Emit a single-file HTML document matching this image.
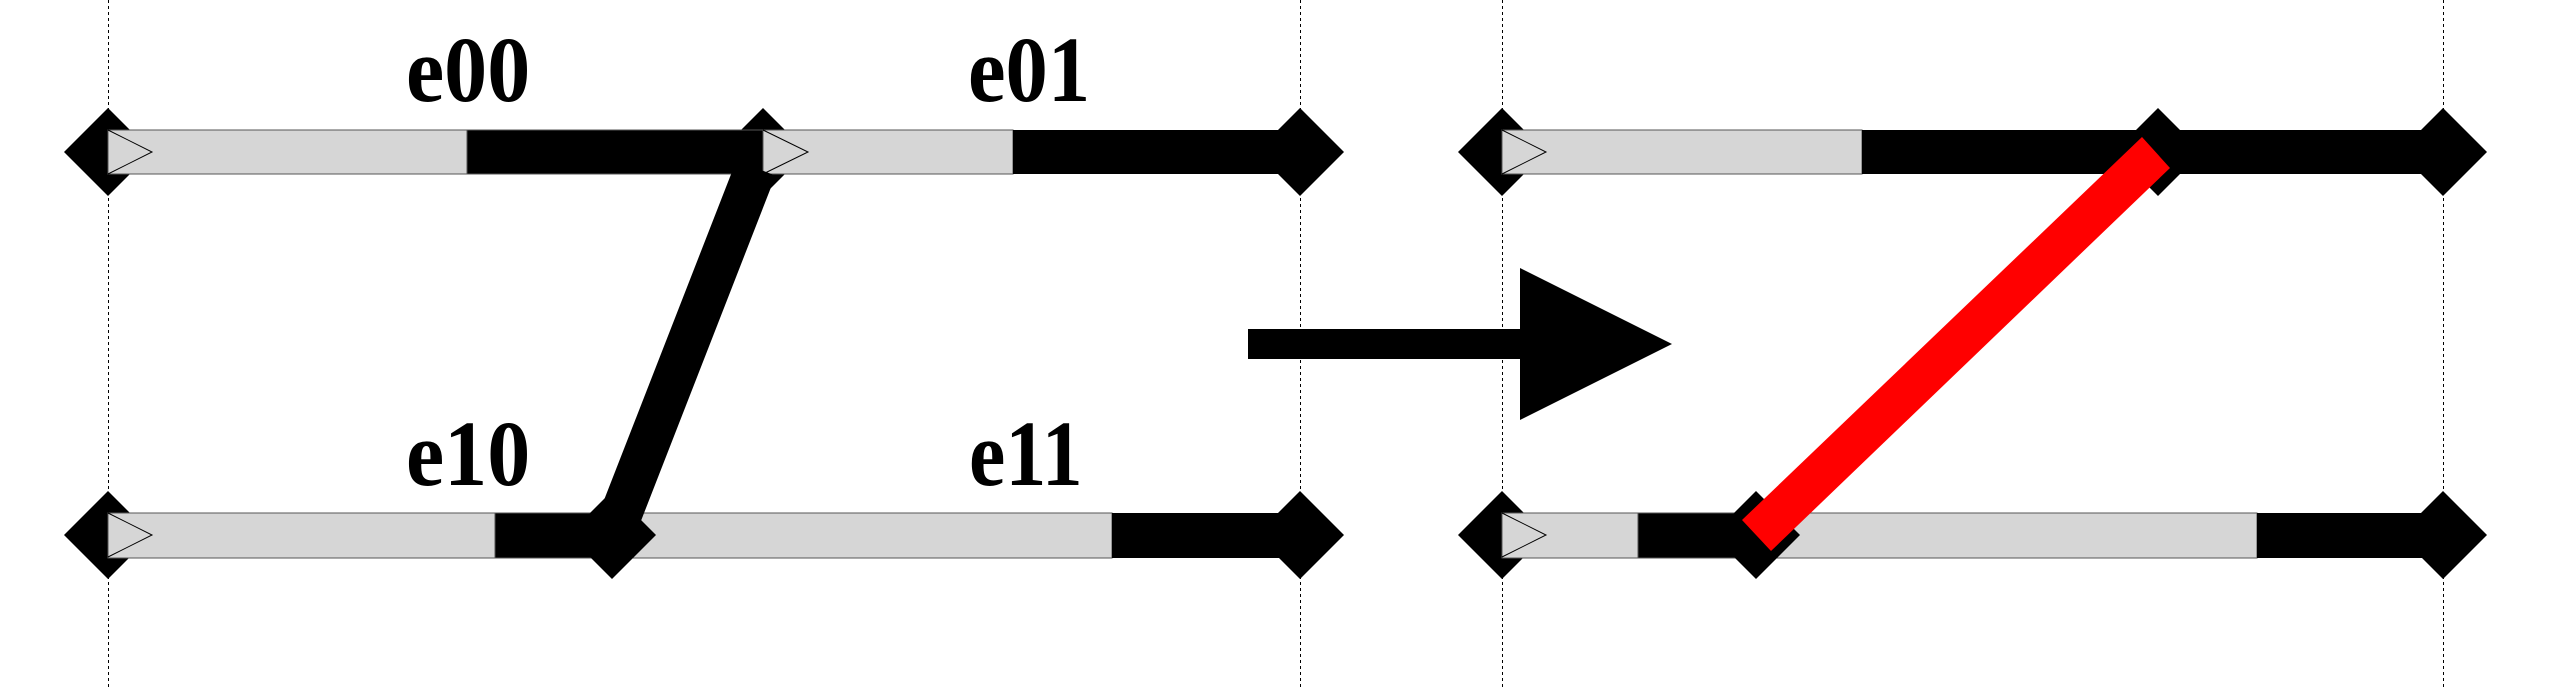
<!DOCTYPE html>
<html><head><style>html,body{margin:0;padding:0;background:#fff}svg{display:block}
.t{font-family:"Liberation Serif",serif;font-weight:bold;font-size:93px;fill:#000}</style></head>
<body>
<svg width="2552" height="688" viewBox="0 0 2552 688" xmlns="http://www.w3.org/2000/svg">
<g stroke="#000" stroke-width="1" stroke-dasharray="3,3">
<line x1="108.5" y1="0" x2="108.5" y2="688"/>
<line x1="1300.5" y1="0" x2="1300.5" y2="688"/>
<line x1="1502.5" y1="0" x2="1502.5" y2="688"/>
<line x1="2443.5" y1="0" x2="2443.5" y2="688"/>
</g>
<text class="t" transform="translate(406,101) scale(0.925,1)">e00</text>
<text class="t" transform="translate(968,101) scale(0.91,1)">e01</text>
<text class="t" transform="translate(406,485) scale(0.925,1)">e10</text>
<text class="t" transform="translate(969,485) scale(0.88,1)">e11</text>
<g fill="#000">
<polygon points="108,108 152,152 108,196 64,152"/>
<polygon points="763,108 807,152 763,196 719,152"/>
<polygon points="1300,108 1344,152 1300,196 1256,152"/>
<polygon points="108,491 152,535 108,579 64,535"/>
<polygon points="1300,491 1344,535 1300,579 1256,535"/>
<polygon points="1502,108 1546,152 1502,196 1458,152"/>
<polygon points="2158,108 2202,152 2158,196 2114,152"/>
<polygon points="2443,108 2487,152 2443,196 2399,152"/>
<polygon points="1502,491 1546,535 1502,579 1458,535"/>
<polygon points="2443,491 2487,535 2443,579 2399,535"/>
</g>
<g stroke="#555" stroke-width="1">
<rect x="108" y="130" width="359" height="44" fill="#d6d6d6"/>
<rect x="467" y="130" width="296" height="44" fill="#000"/>
<rect x="763" y="130" width="250" height="44" fill="#d6d6d6"/>
<rect x="1013" y="130" width="287" height="44" fill="#000" stroke="none"/>
<rect x="108" y="513" width="387" height="45" fill="#d6d6d6"/>
<rect x="495" y="513" width="117" height="45" fill="#000"/>
<rect x="612" y="513" width="500" height="45" fill="#d6d6d6"/>
<rect x="1112" y="513" width="188" height="45" fill="#000" stroke="none"/>
</g>
<polygon points="612,491 656,535 612,579 568,535" fill="#000"/>
<line x1="756" y1="168" x2="618" y2="522" stroke="#000" stroke-width="42"/>
<g fill="none" stroke="#000" stroke-width="1">
<polyline points="108,130 152,152 108,174"/>
<polyline points="763,130 808,152 763,174"/>
<polyline points="108,513 152,535 108,557"/>
</g>
<rect x="1248" y="329" width="272" height="30" fill="#000"/>
<polygon points="1520,268 1672,344 1520,420" fill="#000"/>
<g stroke="#555" stroke-width="1">
<rect x="1502" y="130" width="360" height="44" fill="#d6d6d6"/>
<rect x="1862" y="130" width="581" height="44" fill="#000" stroke="none"/>
<rect x="1502" y="513" width="136" height="45" fill="#d6d6d6"/>
<rect x="1638" y="513" width="118" height="45" fill="#000"/>
<rect x="1756" y="513" width="501" height="45" fill="#d6d6d6"/>
<rect x="2257" y="513" width="186" height="45" fill="#000" stroke="none"/>
</g>
<polygon points="1756,491 1800,535 1756,579 1712,535" fill="#000"/>
<g fill="none" stroke="#000" stroke-width="1">
<polyline points="1502,130 1546,152 1502,174"/>
<polyline points="1502,513 1546,535 1502,557"/>
</g>
<polygon points="2142,137 2170,168 1771,551 1742,520" fill="#f00"/>
</svg>
</body></html>
